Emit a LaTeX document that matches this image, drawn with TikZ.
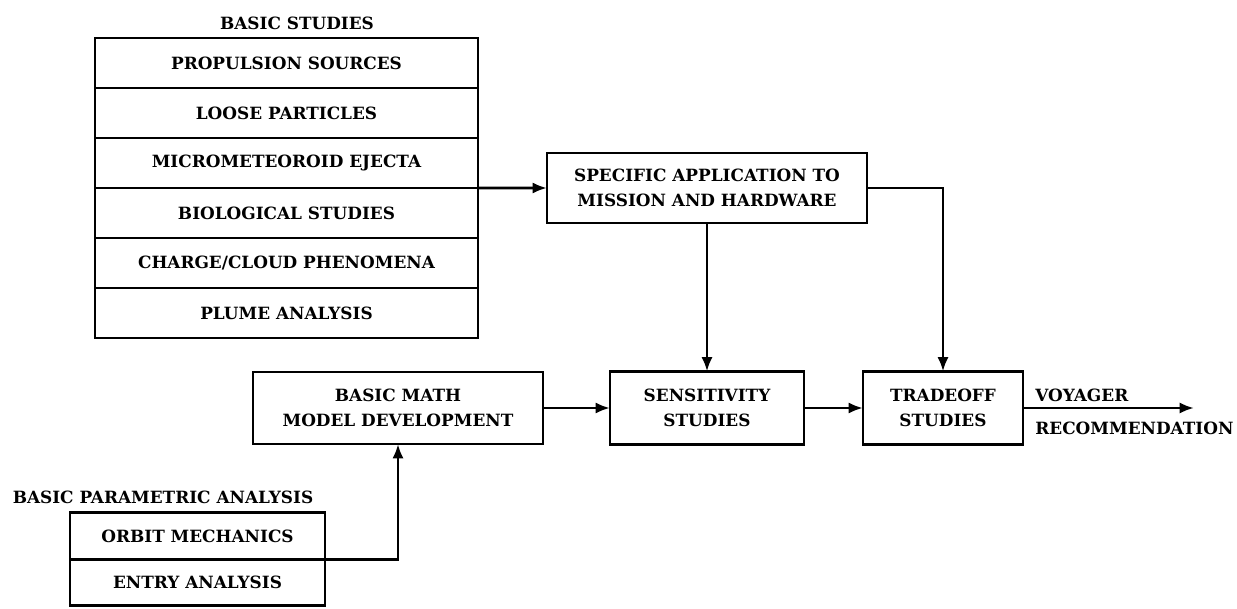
\documentclass[tikz,border=0pt]{standalone}
\usepackage{fontspec}
\setmainfont{DejaVu Serif}
\usetikzlibrary{positioning, arrows.meta}
\newcommand{\flowarrow}{-{Latex[length=3.6mm,width=2.8mm]}}
\newcommand{\memofont}{\bfseries\fontsize{12}{17.5}\selectfont}
\tikzset{
  plain/.style={font=\memofont, inner sep=0pt},
  block/.style={draw, line width=2pt, font=\memofont, align=center, outer sep=0pt},
  row/.style={block, minimum width=9.575cm, minimum height=1.25cm},
  subrow/.style={block, minimum width=6.375cm, minimum height=1.16cm}
}

\begin{document}
\begin{tikzpicture}[x=0.025cm, y=-0.025cm, line width=2pt]
  \useasboundingbox (0,0) rectangle (1237,609);
  % basic studies
  \node[plain] (studies) at (297,23) {BASIC STUDIES};
  \node[row] (prop) at (286.5,63) {PROPULSION SOURCES};
  \node[row, below=0pt of prop] (loose) {LOOSE PARTICLES};
  \node[row, below=0pt of loose] (micro) {MICROMETEOROID EJECTA};
  \node[row, below=0pt of micro] (bio) {BIOLOGICAL STUDIES};
  \node[row, below=0pt of bio] (charge) {CHARGE/CLOUD PHENOMENA};
  \node[row, below=0pt of charge] (plume) {PLUME ANALYSIS};

  % main flow
  \node[block, minimum width=8cm, minimum height=1.75cm] (specific) at (707,188)
    {SPECIFIC APPLICATION TO\\MISSION AND HARDWARE};
  \node[block, minimum width=7.25cm, minimum height=1.8cm] (math) at (398,408)
    {BASIC MATH\\MODEL DEVELOPMENT};
  \node[block, minimum width=4.85cm, minimum height=1.825cm] (sens) at (707,408)
    {SENSITIVITY\\STUDIES};
  \node[block, minimum width=4cm, minimum height=1.825cm] (trade) at (943,408)
    {TRADEOFF\\STUDIES};
  \coordinate (voyend) at (1194,408);
  \node[plain, anchor=west] (voyager) at (1034,395) {VOYAGER};
  \node[plain, anchor=west] (recommend) at (1034,428) {RECOMMENDATION};

  % parametric analysis
  \node[plain] (param) at (163,497) {BASIC PARAMETRIC ANALYSIS};
  \node[subrow] (orbit) at (197.5,536) {ORBIT MECHANICS};
  \node[subrow, below=0pt of orbit] (entry) {ENTRY ANALYSIS};

  \draw[\flowarrow] (micro.south east) -- (specific.west);
  \draw[\flowarrow] (specific.south) -- (sens.north);
  \draw[\flowarrow] (specific.east) -| (trade.north);
  \draw[\flowarrow] (math) -- (sens);
  \draw[\flowarrow] (sens) -- (trade);
  \draw[\flowarrow] (trade) -- (voyend);
  \draw[\flowarrow] (orbit.south east) -| (math.south);
\end{tikzpicture}
\end{document}
